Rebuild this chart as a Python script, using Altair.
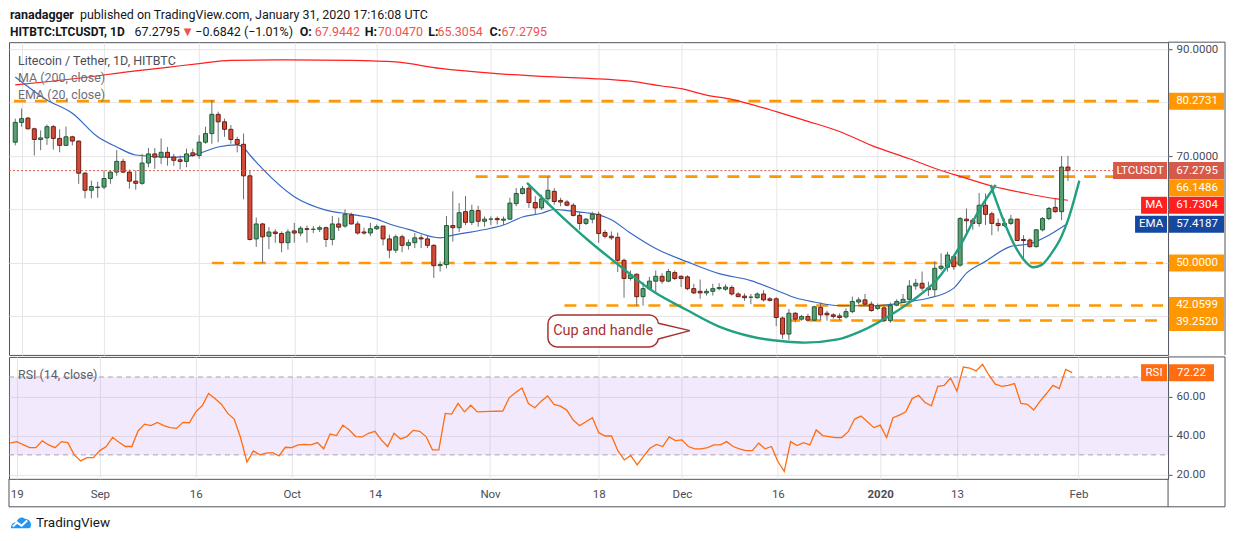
import altair as alt
import pandas as pd

START = pd.Timestamp("2019-08-19")


def ms(day):
    return int((START + pd.Timedelta(days=float(day))).value // 1_000_000)


# ---------------- data (days counted from 2019-08-19) ----------------
candle_days = list(range(-1, 166))
opens = [72.6, 76.3, 77.1, 75.1, 73.1, 73.4, 75.5, 73.3, 72.0, 73.6,
         72.8, 66.8, 63.6, 64.1, 64.2, 65.8, 67.0, 69.0, 67.0, 65.3,
         64.9, 68.7, 70.4, 69.8, 70.7, 69.8, 69.3, 69.0, 70.6, 70.1,
         72.6, 74.2, 77.8, 76.4, 75.0, 73.1, 72.2, 66.3, 54.5, 57.3,
         55.0, 55.8, 55.5, 53.8, 56.0, 55.6, 56.4, 56.3, 56.3, 56.6,
         54.4, 57.3, 56.9, 59.0, 57.3, 55.8, 55.6, 56.4, 56.9, 54.5,
         52.4, 54.9, 53.3, 53.8, 54.7, 54.5, 53.3, 49.5, 49.7, 57.0,
         56.6, 59.6, 57.6, 59.8, 57.8, 58.2, 58.3, 58.0, 58.2, 61.1,
         63.0, 64.0, 61.3, 60.3, 62.0, 63.4, 61.7, 61.4, 60.8, 58.9,
         57.4, 58.2, 59.1, 55.7, 55.0, 54.8, 50.5, 47.1, 47.9, 43.7,
         45.2, 46.6, 47.5, 46.6, 48.2, 47.5, 47.4, 45.2, 44.7, 44.4,
         44.7, 45.2, 45.1, 45.4, 44.2, 43.8, 43.6, 43.5, 44.2, 43.3,
         43.3, 39.7, 36.7, 40.6, 39.5, 40.0, 39.3, 41.7, 40.6, 40.3,
         40.1, 39.9, 40.9, 42.7, 43.1, 42.3, 41.5, 41.6, 39.2, 42.1,
         42.6, 43.2, 45.7, 46.2, 45.3, 45.0, 49.0, 49.2, 51.2, 49.6,
         58.2, 58.0, 57.4, 60.8, 59.2, 57.4, 57.0, 57.4, 58.2, 54.4,
         54.3, 53.05, 56.2, 58.3, 60.4, 59.6, 67.9442]
highs = [77.0, 78.9, 77.3, 75.3, 74.8, 75.9, 75.8, 75.0, 75.5, 73.8,
         72.9, 67.0, 65.4, 65.2, 67.3, 67.3, 71.1, 69.5, 67.5, 67.3,
         70.4, 71.5, 71.5, 73.3, 71.7, 70.4, 70.1, 71.4, 71.4, 73.9,
         75.5, 80.5, 78.3, 77.0, 75.8, 73.6, 74.2, 67.3, 58.5, 57.5,
         56.7, 56.3, 55.9, 56.3, 57.5, 56.9, 57.0, 56.9, 57.0, 56.8,
         58.8, 58.5, 60.0, 59.4, 57.8, 56.6, 57.5, 57.2, 56.9, 55.3,
         55.3, 55.3, 54.4, 55.6, 55.3, 55.1, 53.5, 50.3, 58.8, 63.4,
         61.2, 62.5, 60.9, 60.7, 58.7, 58.7, 58.7, 58.7, 62.2, 64.0,
         64.4, 64.4, 62.5, 62.8, 66.2, 64.0, 62.2, 61.8, 61.2, 59.6,
         58.4, 59.6, 59.6, 56.2, 55.9, 55.7, 50.8, 48.6, 48.0, 46.4,
         47.4, 48.6, 48.1, 48.9, 48.6, 47.7, 47.7, 46.1, 46.9, 45.2,
         46.1, 46.2, 46.0, 45.8, 44.5, 44.3, 44.2, 44.5, 44.9, 43.6,
         43.6, 40.0, 41.4, 40.8, 40.3, 40.5, 42.0, 42.6, 41.1, 40.6,
         40.6, 41.5, 43.7, 43.6, 44.2, 42.8, 42.4, 42.1, 42.6, 43.2,
         44.2, 46.8, 47.0, 48.4, 46.5, 50.3, 51.8, 52.1, 51.5, 58.6,
         60.2, 58.4, 63.1, 63.0, 59.6, 58.3, 58.3, 59.0, 58.3, 55.2,
         54.6, 56.3, 58.6, 60.5, 62.1, 70.0, 70.047]
lows = [72.0, 75.5, 75.0, 70.1, 71.1, 72.1, 71.2, 70.7, 71.9, 72.0,
        64.8, 62.1, 62.1, 62.2, 63.8, 64.8, 66.3, 66.8, 63.9, 63.7,
        64.6, 67.9, 67.6, 68.5, 68.2, 68.2, 67.5, 67.9, 69.8, 69.5,
        72.3, 72.3, 72.6, 73.6, 72.3, 70.7, 61.9, 54.2, 53.0, 50.0,
        52.6, 53.8, 52.0, 52.5, 53.8, 55.0, 53.8, 55.6, 55.8, 53.0,
        53.3, 56.0, 56.6, 57.2, 55.3, 55.3, 55.0, 56.2, 53.3, 50.9,
        51.9, 52.0, 52.5, 52.8, 52.8, 52.8, 47.2, 48.4, 49.0, 54.0,
        55.8, 57.1, 57.1, 56.8, 56.8, 57.1, 57.2, 57.1, 58.1, 60.6,
        62.8, 60.3, 59.0, 59.9, 60.9, 60.9, 60.6, 60.6, 58.7, 56.2,
        57.1, 57.4, 53.8, 54.6, 54.3, 48.3, 43.5, 46.7, 42.0, 42.0,
        44.9, 44.5, 46.1, 46.4, 46.8, 45.5, 44.9, 44.2, 43.3, 43.9,
        43.9, 44.9, 44.8, 43.9, 43.6, 42.9, 42.3, 43.3, 42.8, 42.8,
        38.2, 35.8, 35.6, 38.9, 39.2, 39.0, 39.2, 39.3, 39.2, 39.6,
        39.3, 39.6, 40.6, 42.3, 42.1, 40.9, 41.2, 39.0, 38.8, 41.9,
        42.5, 42.8, 45.0, 44.8, 43.8, 43.7, 48.6, 48.4, 48.7, 49.3,
        55.5, 56.2, 56.8, 57.1, 55.2, 55.9, 56.7, 57.1, 54.1, 50.4,
        52.9, 52.9, 55.9, 58.0, 59.4, 58.0, 65.3054]
closes = [76.3, 77.0, 75.1, 73.1, 73.4, 75.5, 73.3, 72.0, 73.6, 72.8,
          66.8, 63.6, 64.3, 64.2, 65.8, 67.0, 69.0, 67.0, 65.3, 64.9,
          68.7, 70.4, 69.8, 70.7, 69.8, 69.2, 69.0, 70.4, 70.1, 72.6,
          74.2, 77.8, 76.4, 75.0, 73.1, 72.2, 66.3, 54.4, 57.3, 54.9,
          55.8, 55.5, 53.8, 55.8, 55.6, 56.5, 56.3, 56.3, 56.6, 54.4,
          57.3, 56.7, 59.1, 57.3, 55.6, 55.6, 56.4, 56.8, 54.5, 52.4,
          54.9, 53.3, 53.8, 54.7, 54.5, 53.3, 49.5, 49.7, 57.0, 56.6,
          59.4, 57.6, 59.8, 57.8, 58.2, 58.2, 58.1, 58.2, 61.2, 63.0,
          63.9, 61.3, 60.3, 62.0, 63.6, 61.5, 61.4, 60.8, 58.9, 57.4,
          58.2, 59.1, 55.5, 55.0, 54.7, 50.5, 47.1, 47.8, 43.7, 45.2,
          46.6, 47.5, 46.6, 48.4, 47.1, 47.1, 45.2, 44.4, 44.4, 44.7,
          45.2, 45.4, 45.5, 44.2, 43.7, 43.5, 43.6, 44.2, 43.1, 43.0,
          39.8, 36.7, 40.6, 39.5, 40.0, 39.3, 41.8, 40.3, 40.3, 40.0,
          39.8, 40.9, 42.8, 43.1, 42.3, 41.1, 42.0, 39.2, 42.1, 42.8,
          43.2, 45.7, 46.2, 45.3, 45.0, 49.0, 49.4, 51.5, 49.3, 58.3,
          57.9, 57.4, 60.8, 59.1, 57.4, 57.0, 57.4, 58.2, 54.2, 54.2,
          53.05, 56.2, 58.3, 60.2, 59.6, 67.9442, 67.2795]

ma_days = [-1, 4, 10, 17, 23, 28, 33, 42, 52, 59, 66, 74, 84, 90, 96, 101, 104,
           108, 112, 114, 119, 124, 129, 134, 140, 145, 148, 153, 158, 162, 165]
ma_vals = [83.3, 83.9, 84.7, 85.8, 86.6, 87.3, 87.9, 88.0, 87.9, 87.6, 86.4, 85.5,
           84.8, 84.5, 84.0, 83.1, 82.6, 81.4, 80.6, 80.0, 78.3, 76.5, 74.6, 72.0,
           69.5, 67.3, 66.2, 64.4, 63.1, 62.2, 61.7304]

ema_days = [-1, 4, 8, 12, 15, 18, 23, 26, 28, 31, 34, 35, 36, 38, 43, 48, 52, 56,
            58, 61, 66, 68, 74, 76, 79, 82, 84, 86, 89, 91, 93, 96, 100, 105, 110,
            115, 119, 122, 125, 129, 135, 140, 143, 147, 149, 152, 156, 159, 162, 165]
ema_vals = [84.8, 80.5, 78.0, 73.6, 71.7, 70.2, 69.8, 69.9, 70.5, 71.7, 72.1, 71.6,
            70.2, 67.6, 62.4, 59.9, 59.1, 58.2, 57.3, 56.3, 54.7, 55.2, 56.5, 57.1,
            58.6, 59.3, 60.0, 59.8, 59.4, 59.0, 58.1, 55.6, 52.7, 50.2, 48.0, 46.7,
            44.9, 43.5, 42.7, 42.0, 42.0, 42.8, 43.4, 45.3, 48.1, 50.3, 53.1, 53.6,
            55.2, 57.4187]

rsi_vals = [36.0, 36.8, 35.3, 33.7, 33.7, 37.2, 35.1, 33.7, 36.8, 36.3,
            30.0, 26.9, 28.6, 28.6, 32.2, 34.3, 39.0, 36.5, 34.3, 34.3,
            42.4, 45.8, 45.0, 46.7, 45.0, 44.0, 43.6, 46.7, 46.5, 52.1,
            55.2, 61.5, 58.9, 56.0, 51.3, 48.4, 38.9, 26.3, 32.0, 30.0,
            30.9, 31.2, 29.5, 33.9, 33.7, 35.1, 35.4, 35.1, 36.3, 33.1,
            40.7, 39.9, 45.3, 42.8, 39.4, 39.2, 41.1, 42.1, 37.7, 34.3,
            41.1, 38.2, 39.4, 42.6, 42.1, 39.4, 32.6, 32.6, 51.3, 50.9,
            56.4, 52.1, 55.5, 52.1, 52.2, 52.3, 52.4, 52.5, 59.3, 62.0,
            64.4, 56.4, 54.2, 57.6, 60.3, 55.9, 55.0, 53.0, 47.9, 45.0,
            47.0, 49.1, 41.4, 39.7, 39.7, 32.0, 27.4, 29.7, 24.9, 29.2,
            33.4, 35.4, 34.3, 39.2, 37.3, 37.7, 34.3, 33.1, 33.1, 33.7,
            35.1, 35.1, 36.8, 34.3, 33.1, 32.2, 32.2, 36.0, 33.1, 34.3,
            26.6, 21.5, 36.8, 34.8, 36.3, 35.1, 42.8, 39.9, 39.4, 38.9,
            38.9, 41.9, 48.4, 49.9, 47.0, 44.0, 45.3, 38.9, 49.1, 50.4,
            52.1, 58.9, 60.6, 56.9, 55.2, 65.2, 65.7, 69.5, 62.7, 75.1,
            74.6, 73.1, 76.5, 70.9, 66.3, 65.2, 65.7, 66.6, 56.4, 56.0,
            53.0, 57.6, 61.5, 65.7, 64.0, 73.9, 72.22]

level_vals = [80.2731, 66.1486, 50.0, 42.0599, 39.2520]
level_start = [-1.2, 71.6, 30.0, 85.6, 120.9]

cup_days = [79.7, 84.1, 89.3, 94.5, 99.7, 104.9, 110.0, 115.2, 120.4, 123.5,
            128.7, 132.3, 137.5, 140.6, 144.3, 147.9, 151.0, 153.6]
cup_vals = [65.0, 59.9, 54.3, 49.3, 44.6, 41.2, 38.1, 36.2, 35.3, 35.1,
            35.7, 37.2, 40.6, 43.1, 46.8, 53.0, 59.9, 64.6]
handle_days = [152.8, 154.6, 156.7, 158.3, 159.5, 160.8, 162.4, 164.0, 165.0, 166.8]
handle_vals = [64.6, 58.7, 53.05, 50.25, 49.2, 49.6, 51.8, 55.0, 58.0, 65.4]

callout_box_days = [83.0, 100.4]
callout_box_vals = [34.3, 40.28]
callout_tip = (105.4, 37.35)
callout_base_vals = [38.73, 35.79]
callout_text = "Cup and handle"

tick_days = [0, 13, 28, 43, 56, 74, 91, 104, 119, 135, 147, 166]

price_box_vals = [80.2731, 67.2795, 66.1486, 61.7304, 57.4187, 50.0, 42.0599, 39.2520]
price_box_text = ["80.2731", "67.2795", "66.1486", "61.7304", "57.4187",
                  "50.0000", "42.0599", "39.2520"]

# ---------------- style ----------------
FONT = "Roboto"
W, H, H2, AX = 1160, 313, 122, 57
X_LO, X_HI = -1.2, 180.0
FRAME = "#50535e"
GRID = "#e6e6e6"
TXT = "#4a4d57"
DARK = "#131722"
ORANGE = "#ff9800"
LAST = "#d65a4a"
MA_RED = "#ff1f1f"
EMA_BLUE = "#1548a0"
UP, UP_D = "#5a9e74", "#1f5a35"
DN, DN_D = "#d44c38", "#6b1d13"
CUP = "#21a082"
CALL = "#a8312f"
RSI_C = "#ff6d10"
VAL_RED = "#ef5350"

xs = alt.Scale(type="utc", domain=[ms(X_LO), ms(X_HI)])
ys_p = alt.Scale(domain=[32.8, 91.3], zero=False, nice=False)
ys_r = alt.Scale(domain=[17.7, 80.3], zero=False, nice=False)
TICKS = [ms(d) for d in tick_days]

xaxis_p = alt.Axis(values=TICKS, labels=False, ticks=False, domain=False, grid=True,
                   gridColor=GRID, title=None)
xaxis_r = alt.Axis(values=TICKS, ticks=False, domain=False, grid=True, gridColor=GRID,
                   title=None, labelFont=FONT, labelFontSize=11.5, labelColor=TXT,
                   labelPadding=10, labelOverlap=False, labelFlush=False,
                   labelFontWeight={"condition": {"test": "utcmonth(datum.value) == 0 && utcdate(datum.value) == 1",
                                                  "value": "bold"},
                                    "value": "normal"},
                   labelExpr="utcdate(datum.value) == 1 ? (utcmonth(datum.value) == 0 ? "
                             "utcFormat(datum.value, '%Y') : utcFormat(datum.value, '%b')) : "
                             "utcFormat(datum.value, '%-d')")
# only the labels not covered by value boxes are written (90 and 70)
yaxis_p = alt.Axis(orient="right", values=[40, 50, 60, 70, 80, 90], grid=True,
                   gridColor=GRID, domain=False, tickSize=4, tickColor=FRAME,
                   labelColor=TXT, labelFont=FONT, labelFontSize=11.5, labelPadding=4,
                   labelExpr="(datum.value == 90 || datum.value == 70) ? format(datum.value, '.4f') : ''",
                   title=None)
yaxis_r = alt.Axis(orient="right", values=[20, 40, 60], format=".2f", grid=True,
                   gridColor=GRID, domain=False, tickSize=4, tickColor=FRAME,
                   labelColor=TXT, labelFont=FONT, labelFontSize=11.5, labelPadding=4,
                   title=None)


def PX(f):
    return alt.X(f, type="temporal", scale=xs, axis=xaxis_p)


def PY(f):
    return alt.Y(f, type="quantitative", scale=ys_p, axis=yaxis_p)


def RX(f):
    return alt.X(f, type="temporal", scale=xs, axis=xaxis_r)


def RY(f):
    return alt.Y(f, type="quantitative", scale=ys_r, axis=yaxis_r)


one = pd.DataFrame({"k": [0]})

# ---------------- price panel ----------------
candles = pd.DataFrame({"t": [ms(d) for d in candle_days], "o": opens, "h": highs,
                        "l": lows, "c": closes})
levels = pd.DataFrame({"x0": [ms(d) for d in level_start], "x1": ms(X_HI), "v": level_vals})
ma = pd.DataFrame({"t": [ms(d) for d in ma_days], "v": ma_vals})
ema = pd.DataFrame({"t": [ms(d) for d in ema_days], "v": ema_vals})
cup = pd.DataFrame({"t": [ms(d) for d in cup_days], "v": cup_vals})
handle = pd.DataFrame({"t": [ms(d) for d in handle_days], "v": handle_vals})

p_layers = []
p_layers.append(alt.Chart(levels).mark_rule(color=ORANGE, strokeWidth=2.6, strokeDash=[12, 9],
                                            clip=True)
                .encode(x=PX("x0"), x2=alt.X2("x1"), y=PY("v")))
p_layers.append(alt.Chart(ma).mark_line(color=MA_RED, strokeWidth=1.2, interpolate="monotone",
                                        clip=True).encode(x=PX("t"), y=PY("v")))
p_layers.append(alt.Chart(ema).mark_line(color="#3568c4", strokeWidth=1.2, interpolate="monotone",
                                         clip=True).encode(x=PX("t"), y=PY("v")))
p_layers.append(alt.Chart(candles).mark_rule(color="#6a6d73", strokeWidth=1, clip=True)
                .encode(x=PX("t"), y=PY("l"), y2=alt.Y2("h")))
p_layers.append(alt.Chart(candles).mark_bar(width=4, strokeWidth=1, clip=True)
                .encode(x=PX("t"), y=PY("o"), y2=alt.Y2("c"),
                        fill=alt.condition("datum.c >= datum.o", alt.value(UP), alt.value(DN)),
                        stroke=alt.condition("datum.c >= datum.o", alt.value(UP_D), alt.value(DN_D))))
p_layers.append(alt.Chart(cup).mark_line(color=CUP, strokeWidth=2.4, interpolate="monotone")
                .encode(x=PX("t"), y=PY("v")))
p_layers.append(alt.Chart(handle).mark_line(color=CUP, strokeWidth=2.4, interpolate="monotone")
                .encode(x=PX("t"), y=PY("v")))

# callout
cbox = pd.DataFrame({"x0": [ms(callout_box_days[0])], "x1": [ms(callout_box_days[1])],
                     "y0": [callout_box_vals[0]], "y1": [callout_box_vals[1]]})
p_layers.append(alt.Chart(cbox).mark_rect(fill="white", stroke=CALL, strokeWidth=1.5,
                                          cornerRadius=9)
                .encode(x=PX("x0"), x2=alt.X2("x1"), y=PY("y0"), y2=alt.Y2("y1")))
ptr_area = pd.DataFrame({"t": [ms(callout_box_days[1] - 0.25), ms(callout_tip[0])],
                         "a": [callout_base_vals[0], callout_tip[1]],
                         "b": [callout_base_vals[1], callout_tip[1]]})
p_layers.append(alt.Chart(ptr_area).mark_area(color="white", opacity=1)
                .encode(x=PX("t"), y=PY("a"), y2=alt.Y2("b")))
ptr = pd.DataFrame({"xa": [ms(callout_box_days[1])] * 2, "ya": callout_base_vals,
                    "xb": [ms(callout_tip[0])] * 2, "yb": [callout_tip[1]] * 2})
p_layers.append(alt.Chart(ptr).mark_rule(color=CALL, strokeWidth=1.5)
                .encode(x=PX("xa"), y=PY("ya"), x2=alt.X2("xb"), y2=alt.Y2("yb")))
ctext = pd.DataFrame({"t": [ms((callout_box_days[0] + callout_box_days[1]) / 2)],
                      "v": [(callout_box_vals[0] + callout_box_vals[1]) / 2],
                      "s": [callout_text]})
p_layers.append(alt.Chart(ctext).mark_text(color=CALL, font=FONT, fontSize=14.5,
                                           baseline="middle", align="center")
                .encode(x=PX("t"), y=PY("v"), text="s:N"))

# current price dotted line
lastp = pd.DataFrame({"v": [closes[-1]]})
p_layers.append(alt.Chart(lastp).mark_rule(color=LAST, strokeWidth=1, strokeDash=[2, 2])
                .encode(x=alt.value(0), x2=alt.value(W), y=PY("v")))

# legends
for txt, yy, col in [("Litecoin / Tether, 1D, HITBTC", 19, "#4a4e58"),
                     ("MA (200, close)", 36, "#6b6e78"),
                     ("EMA (20, close)", 53, "#6b6e78")]:
    p_layers.append(alt.Chart(one).mark_text(text=txt, align="left", baseline="middle",
                                             font=FONT, fontSize=12.5, color=col)
                    .encode(x=alt.value(9), y=alt.value(yy)))

# header
Y1, Y2 = -27, -10
hdr = [("ranadagger", 1, Y1, "bold", DARK, FONT, 12.5),
       ("published on TradingView.com, January 31, 2020 17:16:08 UTC", 71, Y1, "normal", DARK, FONT, 12.5),
       ("HITBTC:LTCUSDT, 1D", 1, Y2, "bold", DARK, FONT, 12),
       ("67.2795", 125.6, Y2, "normal", DARK, FONT, 12.5),
       ("\u25bc", 175, Y2, "normal", VAL_RED, "DejaVu Sans", 10),
       ("\u22120.6842 (\u22121.01%)", 186.5, Y2, "normal", DARK, FONT, 12.5),
       ("O:", 291, Y2, "bold", DARK, FONT, 12.5),
       ("67.9442", 306, Y2, "normal", VAL_RED, FONT, 12.5),
       ("H:", 356, Y2, "bold", DARK, FONT, 12.5),
       ("70.0470", 369, Y2, "normal", VAL_RED, FONT, 12.5),
       ("L:", 419.7, Y2, "bold", DARK, FONT, 12.5),
       ("65.3054", 428.8, Y2, "normal", VAL_RED, FONT, 12.5),
       ("C:", 481, Y2, "bold", DARK, FONT, 12.5),
       ("67.2795", 493, Y2, "normal", VAL_RED, FONT, 12.5)]
for txt, xx, yy, wt, col, fnt, fs in hdr:
    p_layers.append(alt.Chart(one).mark_text(text=txt, align="left", baseline="middle",
                                             font=fnt, fontSize=fs, fontWeight=wt, color=col)
                    .encode(x=alt.value(xx), y=alt.value(yy)))

# right-hand value boxes
box_colors = [ORANGE, LAST, ORANGE, MA_RED, EMA_BLUE, ORANGE, ORANGE, ORANGE]
box_nudge = [0, 0, 11, 5, 1, 0, 0, 2]
for val, txt, col, nud in zip(price_box_vals, price_box_text, box_colors, box_nudge):
    d = pd.DataFrame({"v": [val]})
    p_layers.append(alt.Chart(d).mark_rect(color=col, yOffset=-8.5 + nud, y2Offset=8.5 + nud)
                    .encode(x=alt.value(W + 1), x2=alt.value(W + AX - 1), y=PY("v"), y2=alt.Y2("v")))
    p_layers.append(alt.Chart(d).mark_text(text=txt, color="white", font=FONT, fontSize=11.5,
                                           dy=nud, baseline="middle", align="center")
                    .encode(x=alt.value(W + 29), y=PY("v")))
for txt, val, col, wd, nud in [("LTCUSDT", 67.2795, LAST, 55, 0),
                               ("MA", 61.7304, MA_RED, 27, 5),
                               ("EMA", 57.4187, EMA_BLUE, 33, 1)]:
    d = pd.DataFrame({"v": [val]})
    p_layers.append(alt.Chart(d).mark_rect(color=col, yOffset=-8.5 + nud, y2Offset=8.5 + nud)
                    .encode(x=alt.value(W - wd), x2=alt.value(W - 1), y=PY("v"), y2=alt.Y2("v")))
    p_layers.append(alt.Chart(d).mark_text(text=txt, color="white", font=FONT, fontSize=11.5,
                                           dy=nud, baseline="middle", align="center")
                    .encode(x=alt.value(W - wd / 2 - 0.5), y=PY("v")))

# frame of the price-axis column
p_layers.append(alt.Chart(one).mark_rule(color=FRAME, strokeWidth=1)
                .encode(x=alt.value(W), x2=alt.value(W + AX), y=alt.value(0)))
p_layers.append(alt.Chart(one).mark_rule(color=FRAME, strokeWidth=1)
                .encode(x=alt.value(W + AX), y=alt.value(0), y2=alt.value(H)))

price = alt.layer(*p_layers).properties(width=W, height=H)

# ---------------- RSI panel ----------------
rsi = pd.DataFrame({"t": [ms(d) for d in candle_days], "v": rsi_vals})
r_layers = []
r_layers.append(alt.Chart(pd.DataFrame({"lo": [30], "hi": [70]}))
                .mark_rect(color="#b37feb", opacity=0.17)
                .encode(x=alt.value(0), x2=alt.value(W), y=RY("hi"), y2=alt.Y2("lo")))
r_layers.append(alt.Chart(pd.DataFrame({"v": [70, 30]}))
                .mark_rule(color="#a9a0b2", strokeWidth=1, strokeDash=[5, 4])
                .encode(x=alt.value(0), x2=alt.value(W), y=RY("v")))
r_layers.append(alt.Chart(rsi).mark_line(color=RSI_C, strokeWidth=1.3, clip=True)
                .encode(x=RX("t"), y=RY("v")))
r_layers.append(alt.Chart(one).mark_text(text="RSI (14, close)", align="left", baseline="middle",
                                         font=FONT, fontSize=12.5, color="#5d606b")
                .encode(x=alt.value(9), y=alt.value(18)))
rl = pd.DataFrame({"v": [rsi_vals[-1]]})
r_layers.append(alt.Chart(rl).mark_rect(color=RSI_C, yOffset=-8.5, y2Offset=8.5)
                .encode(x=alt.value(W + 1), x2=alt.value(W + 46), y=RY("v"), y2=alt.Y2("v")))
r_layers.append(alt.Chart(rl).mark_text(text="72.22", color="white", font=FONT, fontSize=11.5,
                                        baseline="middle", align="center")
                .encode(x=alt.value(W + 23.5), y=RY("v")))
r_layers.append(alt.Chart(rl).mark_rect(color=RSI_C, yOffset=-8.5, y2Offset=8.5)
                .encode(x=alt.value(W - 27), x2=alt.value(W - 1), y=RY("v"), y2=alt.Y2("v")))
r_layers.append(alt.Chart(rl).mark_text(text="RSI", color="white", font=FONT, fontSize=11.5,
                                        baseline="middle", align="center")
                .encode(x=alt.value(W - 14), y=RY("v")))
# frame around axis column and time-axis row
for enc in [dict(x=alt.value(W), x2=alt.value(W + AX), y=alt.value(0)),
            dict(x=alt.value(W + AX), y=alt.value(0), y2=alt.value(H2 + 28)),
            dict(x=alt.value(0), x2=alt.value(W + AX), y=alt.value(H2 + 28)),
            dict(x=alt.value(0), y=alt.value(H2), y2=alt.value(H2 + 28)),
            dict(x=alt.value(W), y=alt.value(H2), y2=alt.value(H2 + 28))]:
    r_layers.append(alt.Chart(one).mark_rule(color=FRAME, strokeWidth=1).encode(**enc))
# TradingView logo
cloud = ("M-1,0.55 C-1,0.1 -0.75,-0.1 -0.45,-0.02 C-0.38,-0.5 0.12,-0.7 0.42,-0.38 "
         "C0.75,-0.4 1,-0.12 1,0.2 C1,0.45 0.9,0.55 0.78,0.55 Z")
zig = "M-0.82,0.38 L-0.38,-0.02 L0.06,0.3 L0.62,-0.22"
r_layers.append(alt.Chart(one).mark_point(shape=cloud, size=400, filled=True, color="#2196f3",
                                          opacity=1)
                .encode(x=alt.value(12), y=alt.value(166)))
r_layers.append(alt.Chart(one).mark_point(shape=zig, size=400, filled=False, color="white",
                                          strokeWidth=2, opacity=1)
                .encode(x=alt.value(12), y=alt.value(166)))
r_layers.append(alt.Chart(one).mark_text(text="TradingView", align="left", baseline="middle",
                                         font=FONT, fontSize=13.5, color=DARK)
                .encode(x=alt.value(27), y=alt.value(166)))

rsi_chart = alt.layer(*r_layers).properties(width=W, height=H2)

chart = (alt.vconcat(price, rsi_chart, spacing=0)
         .properties(padding={"left": 0, "top": 0, "right": 0, "bottom": 0}, background="white")
         .configure_view(stroke=FRAME, strokeWidth=1))

chart.save("out.html", embed_options={"renderer": "svg", "actions": False})
